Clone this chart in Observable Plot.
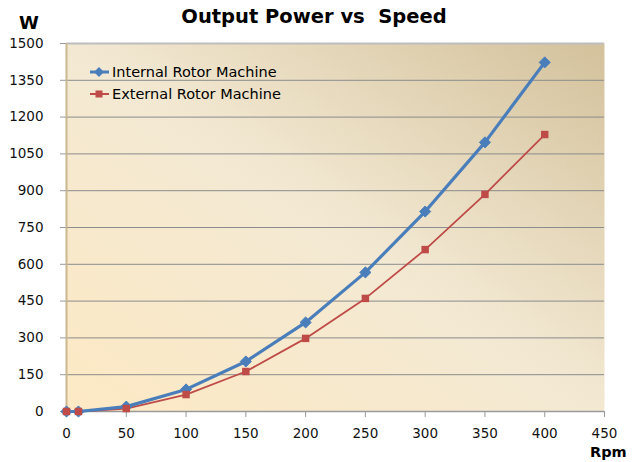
<!DOCTYPE html>
<html><head><meta charset="utf-8">
<script src="https://cdn.jsdelivr.net/npm/d3@7"></script>
<script src="https://cdn.jsdelivr.net/npm/@observablehq/plot@0.6"></script>
<style>
html,body{margin:0;padding:0;background:#fff;}
#wrap{position:relative;width:634px;height:462px;font-family:"DejaVu Sans",sans-serif;}
.abs{position:absolute;white-space:pre;color:#000;}
#title{left:0;width:628px;top:5px;text-align:center;font-weight:bold;font-size:19.5px;}
#ylab{left:19px;top:12px;font-weight:bold;font-size:18px;}
#xlab{left:590px;top:444px;font-weight:bold;font-size:14.5px;line-height:17px;}
#legend{left:89px;top:61px;font-size:14.5px;line-height:22px;}
.row{display:flex;align-items:center;}
.row svg{margin-right:2px;}
</style></head>
<body>
<div id="wrap"></div>
<script>
const rpm = [0, 10, 50, 100, 150, 200, 250, 300, 350, 400];
const internalW = [0, 0, 20, 90, 204, 363, 567, 815, 1097, 1423];
const externalW = [0, 0, 12, 69, 163, 298, 461, 660, 885, 1129];
const seriesNames = ["Internal Rotor Machine", "External Rotor Machine"];
const seriesColors = ["#4a7ebb", "#be4b48"];
const xTicks = [0, 50, 100, 150, 200, 250, 300, 350, 400, 450];
const yTicks = [0, 150, 300, 450, 600, 750, 900, 1050, 1200, 1350, 1500];
const titleText = "Output Power vs  Speed";
const yLabel = "W";
const xLabel = "Rpm";

const internalData = rpm.map((r, i) => ({rpm: r, w: internalW[i]}));
const externalData = rpm.map((r, i) => ({rpm: r, w: externalW[i]}));

const chart = Plot.plot({
  width: 634, height: 462,
  marginLeft: 66, marginRight: 30, marginTop: 43, marginBottom: 51,
  x: {domain: [0, 450]},
  y: {domain: [0, 1500]},
  style: {fontFamily: "'DejaVu Sans', sans-serif", fontSize: "13.5px", color: "#000", background: "transparent"},
  marks: [
    Plot.frame({fill: "url(#bgGrad)", stroke: null}),
    Plot.gridY(yTicks.filter(v => v > 0 && v < 1500), {stroke: "#8c8c8c", strokeOpacity: 1, strokeWidth: 1}),
    Plot.ruleY([1500], {stroke: "#bdbdbd", strokeWidth: 2}),
    Plot.ruleX([0], {stroke: "#c9b890", strokeWidth: 2}),
    Plot.ruleY([0], {stroke: "#9a9a9a", strokeWidth: 1.5}),
    Plot.axisY({ticks: yTicks, tickSize: 6, tickPadding: 17, label: null, stroke: "#9a9a9a", tickFormat: d => String(d), fill: "#111", fontSize: 13.5}),
    Plot.axisX({ticks: xTicks, tickSize: 6, tickPadding: 11, label: null, stroke: "#9a9a9a", tickFormat: d => String(d), fill: "#111", fontSize: 13.5}),
    Plot.line(externalData, {x: "rpm", y: "w", stroke: seriesColors[1], strokeWidth: 1.8}),
    Plot.line(internalData, {x: "rpm", y: "w", stroke: seriesColors[0], strokeWidth: 3.2}),
    Plot.dot(internalData, {x: "rpm", y: "w", symbol: "diamond2", r: 5, fill: seriesColors[0], stroke: seriesColors[0], strokeWidth: 1}),
    Plot.dot(externalData, {x: "rpm", y: "w", symbol: "square", r: 4.2, fill: seriesColors[1], stroke: "none"})
  ]
});

const svg = d3.select(chart);
const defs = svg.insert("defs", ":first-child");
const g = defs.append("linearGradient").attr("id", "bgGrad")
  .attr("x1", "0").attr("y1", "1").attr("x2", "1").attr("y2", "0");
g.append("stop").attr("offset", "0").attr("stop-color", "#fde9c4");
g.append("stop").attr("offset", "0.5").attr("stop-color", "#f3e9d3");
g.append("stop").attr("offset", "1").attr("stop-color", "#d3c19b");

const wrap = document.getElementById("wrap");
wrap.appendChild(chart);

function addDiv(id, text) {
  const d = document.createElement("div");
  d.className = "abs"; d.id = id; d.textContent = text;
  wrap.appendChild(d);
  return d;
}
addDiv("title", titleText);
addDiv("ylab", yLabel);
addDiv("xlab", xLabel);

const legend = document.createElement("div");
legend.className = "abs"; legend.id = "legend";
seriesNames.forEach((name, i) => {
  const row = document.createElement("div");
  row.className = "row";
  const marker = i === 0
    ? `<path d="M10,1 L15,6 L10,11 L5,6 Z" fill="${seriesColors[0]}"/>`
    : `<rect x="6.5" y="2.5" width="7" height="7" fill="${seriesColors[1]}"/>`;
  row.innerHTML = `<svg width="21" height="12"><line x1="1" y1="6" x2="20" y2="6" stroke="${seriesColors[i]}" stroke-width="${i === 0 ? 3 : 2}"/>${marker}</svg><span></span>`;
  row.querySelector("span").textContent = name;
  legend.appendChild(row);
});
wrap.appendChild(legend);
</script>
</body></html>
